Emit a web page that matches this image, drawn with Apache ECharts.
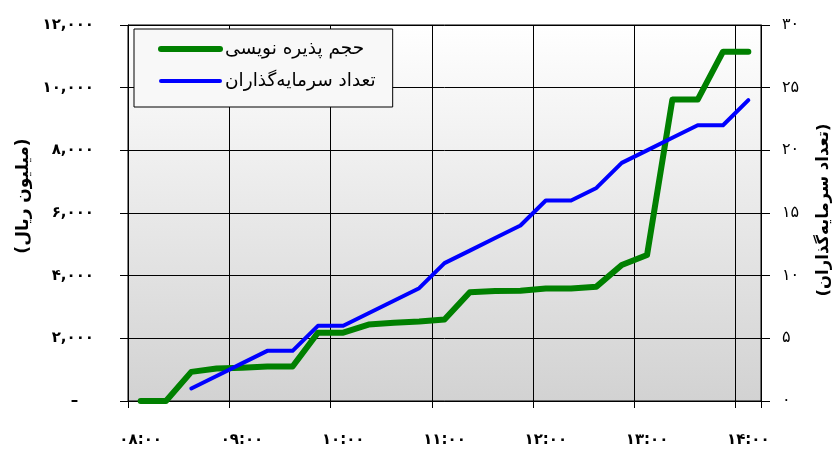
<!DOCTYPE html>
<html><head><meta charset="utf-8">
<script src="https://cdn.jsdelivr.net/npm/echarts@6/dist/echarts.min.js"></script>
<style>html,body{margin:0;padding:0;background:#fff}#c{width:840px;height:462px}</style>
</head><body><div id="c"></div>
<script>
const categories = ['۰۸:۰۰','۰۸:۱۵','۰۸:۳۰','۰۸:۴۵','۰۹:۰۰','۰۹:۱۵','۰۹:۳۰','۰۹:۴۵','۱۰:۰۰','۱۰:۱۵','۱۰:۳۰','۱۰:۴۵','۱۱:۰۰','۱۱:۱۵','۱۱:۳۰','۱۱:۴۵','۱۲:۰۰','۱۲:۱۵','۱۲:۳۰','۱۲:۴۵','۱۳:۰۰','۱۳:۱۵','۱۳:۳۰','۱۳:۴۵','۱۴:۰۰'];
const subscriptionVolume = [0, 0, 930, 1040, 1060, 1100, 1100, 2180, 2180, 2440, 2500, 2540, 2600, 3470, 3510, 3520, 3590, 3590, 3650, 4340, 4660, 9620, 9620, 11150, 11150];
const investorCount = [null, null, 1, 2, 3, 4, 4, 6, 6, 7, 8, 9, 11, 12, 13, 14, 16, 16, 17, 19, 20, 21, 22, 22, 24];
const leftTickLabels = ['–   ', '۲,۰۰۰', '۴,۰۰۰', '۶,۰۰۰', '۸,۰۰۰', '۱۰,۰۰۰', '۱۲,۰۰۰'];
const rightTickLabels = ['۰', '۵', '۱۰', '۱۵', '۲۰', '۲۵', '۳۰'];
const seriesNames = ['حجم پذیره نویسی', 'تعداد سرمایه‌گذاران'];
const leftAxisName = '(میلیون ریال)';
const rightAxisName = '(تعداد سرمایه‌گذاران)';

const FF = 'DejaVu Sans';
const chart = echarts.init(document.getElementById('c'), null, {renderer: 'canvas'});
chart.setOption({
  animation: false,
  backgroundColor: '#ffffff',
  textStyle: {fontFamily: FF},
  grid: {
    left: 128, right: 78, top: 25, bottom: 61, show: true,
    backgroundColor: new echarts.graphic.LinearGradient(0, 0, 0, 1, [
      {offset: 0, color: '#ffffff'}, {offset: 1, color: '#d2d2d2'}
    ]),
    borderColor: '#000', borderWidth: 1
  },
  legend: {
    orient: 'vertical', left: 134, top: 29,
    padding: [9, 17, 15, 24], itemGap: 10,
    itemWidth: 59, itemHeight: 14,
    backgroundColor: '#f8f8f8', borderColor: '#000', borderWidth: 1,
    itemStyle: {opacity: 0},
    textStyle: {fontFamily: FF, fontSize: 18.5, color: '#000', lineHeight: 22},
    data: [
      {name: seriesNames[0], lineStyle: {width: 6, cap: 'round'}},
      {name: seriesNames[1], lineStyle: {width: 4, cap: 'round'}}
    ]
  },
  xAxis: {
    type: 'category', data: categories, boundaryGap: true,
    axisLine: {show: true, lineStyle: {color: '#000', width: 1}},
    axisTick: {show: true, interval: 3, length: 7, lineStyle: {color: '#000'}},
    axisLabel: {interval: 3, margin: 32, fontFamily: FF, fontSize: 15, fontWeight: 'bold', color: '#000'},
    splitLine: {show: true, interval: 3, lineStyle: {color: '#000', width: 1}}
  },
  yAxis: [{
    type: 'value', min: 0, max: 12000, interval: 2000, position: 'left',
    name: leftAxisName, nameLocation: 'middle', nameGap: 96,
    nameTextStyle: {fontFamily: FF, fontSize: 17, fontWeight: 'bold', color: '#000', padding: [0, 0, 0, 34]},
    axisLine: {show: true, lineStyle: {color: '#000'}},
    axisTick: {show: true, length: 8, lineStyle: {color: '#000'}},
    axisLabel: {margin: 34, fontFamily: FF, fontSize: 15, fontWeight: 'bold', color: '#000',
      formatter: v => leftTickLabels[Math.round(v / 2000)]},
    splitLine: {show: true, lineStyle: {color: '#000', width: 1}}
  }, {
    type: 'value', min: 0, max: 30, interval: 5, position: 'right',
    name: rightAxisName, nameLocation: 'middle', nameGap: 54,
    nameTextStyle: {fontFamily: FF, fontSize: 16.5, fontWeight: 'bold', color: '#000', padding: [0, 0, 0, 6]},
    axisLine: {show: true, lineStyle: {color: '#000'}},
    axisTick: {show: true, length: 9, lineStyle: {color: '#000'}},
    axisLabel: {margin: 21, fontFamily: FF, fontSize: 16, color: '#000',
      formatter: v => rightTickLabels[Math.round(v / 5)]},
    splitLine: {show: false}
  }],
  series: [{
    name: seriesNames[0], type: 'line', yAxisIndex: 0, data: subscriptionVolume,
    symbol: 'none', color: '#008000',
    lineStyle: {color: '#008000', width: 6, cap: 'round', join: 'round'}
  }, {
    name: seriesNames[1], type: 'line', yAxisIndex: 1, data: investorCount,
    symbol: 'none', color: '#0000ff', connectNulls: false,
    lineStyle: {color: '#0000ff', width: 4, cap: 'round', join: 'round'}
  }]
});
</script></body></html>
